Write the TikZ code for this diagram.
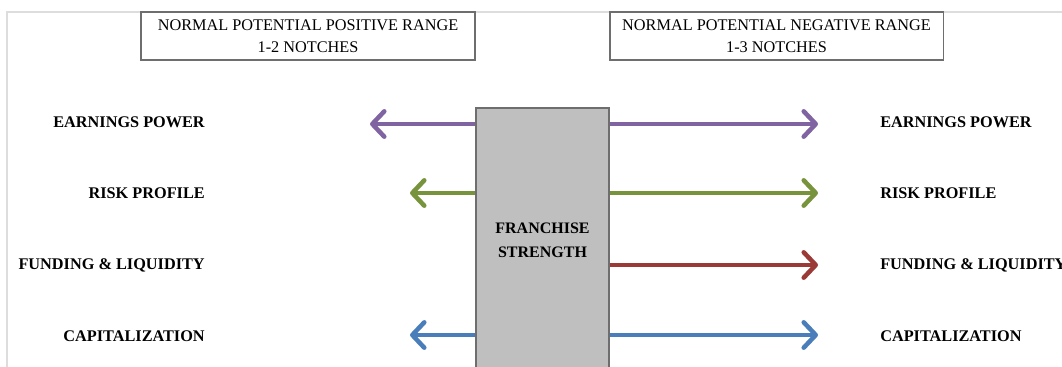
\documentclass[tikz,border=0pt]{standalone}
\usepackage{fontspec}
\setmainfont{Liberation Serif}
\usetikzlibrary{arrows.meta,positioning,shadows}
\definecolor{frame}{HTML}{DDDDDD}
\definecolor{edge}{HTML}{6E6E6E}
\definecolor{boxfill}{HTML}{BFBFBF}
\definecolor{earn}{HTML}{8064A2}
\definecolor{risk}{HTML}{77933C}
\definecolor{fund}{HTML}{9B3936}
\definecolor{capi}{HTML}{4A7EBB}

\begin{document}
\begin{tikzpicture}[x=0.75pt,y=-0.75pt,
  rangebox/.style={draw=edge,line width=0.8pt,fill=white,align=center,minimum height=36pt,
    font=\fontsize{12.2}{16.5}\selectfont,drop shadow={shadow xshift=0.8pt,shadow yshift=-0.8pt,fill=gray!70}},
  core/.style={draw=edge,line width=1.2pt,fill=boxfill,align=center,
    font=\bfseries\fontsize{12}{18}\selectfont},
  lbl/.style={font=\bfseries\fontsize{12.2}{14}\selectfont,inner sep=0pt},
  arr/.style={line width=3.4pt,-{Straight Barb[length=9pt,width=19pt,line cap=round,line join=round]}}
]
  \useasboundingbox (0,0) rectangle (1062,367);
  \clip (0,0) rectangle (1062,367);
  \draw[frame,line width=1pt] (7,367) -- (7,12) -- (1062,12);

  \node[rangebox,minimum width=250.5pt] (pos) at (308,36)   {NORMAL POTENTIAL POSITIVE RANGE\\1-2 NOTCHES};
  \node[rangebox,minimum width=249.8pt] (neg) at (776.5,36) {NORMAL POTENTIAL NEGATIVE RANGE\\1-3 NOTCHES};
  \node[core,minimum width=99.8pt,minimum height=198pt] (fran) at (542.5,240) {FRANCHISE\\STRENGTH};

  % left labels and tips
  \node[lbl,anchor=east] (epL) at (205,122) {EARNINGS POWER};
  \node[lbl,anchor=east] (rpL) at (205,193) {RISK PROFILE};
  \node[lbl,anchor=east] (flL) at (205,265) {FUNDING \& LIQUIDITY};
  \node[lbl,anchor=east] (caL) at (205,336) {CAPITALIZATION};
  \coordinate (epA) at (370,124);
  \coordinate (rpA) at (410,193);
  \coordinate (caA) at (410,335);

  % right labels and tips
  \node[lbl,anchor=west] (epR) at (880,122) {EARNINGS POWER};
  \node[lbl,anchor=west] (rpR) at (880,193) {RISK PROFILE};
  \node[lbl,anchor=west] (flR) at (880,265) {FUNDING \& LIQUIDITY};
  \node[lbl,anchor=west] (caR) at (880,336) {CAPITALIZATION};
  \coordinate (epB) at (818,124);
  \coordinate (rpB) at (818,193);
  \coordinate (flB) at (818,265);
  \coordinate (caB) at (818,335);

  \draw[arr,earn] (fran.west |- epA) -- (epA);
  \draw[arr,earn] (fran.east |- epB) -- (epB);
  \draw[arr,risk] (fran.west |- rpA) -- (rpA);
  \draw[arr,risk] (fran.east |- rpB) -- (rpB);
  \draw[arr,fund] (fran.east |- flB) -- (flB);
  \draw[arr,capi] (fran.west |- caA) -- (caA);
  \draw[arr,capi] (fran.east |- caB) -- (caB);
\end{tikzpicture}
\end{document}
